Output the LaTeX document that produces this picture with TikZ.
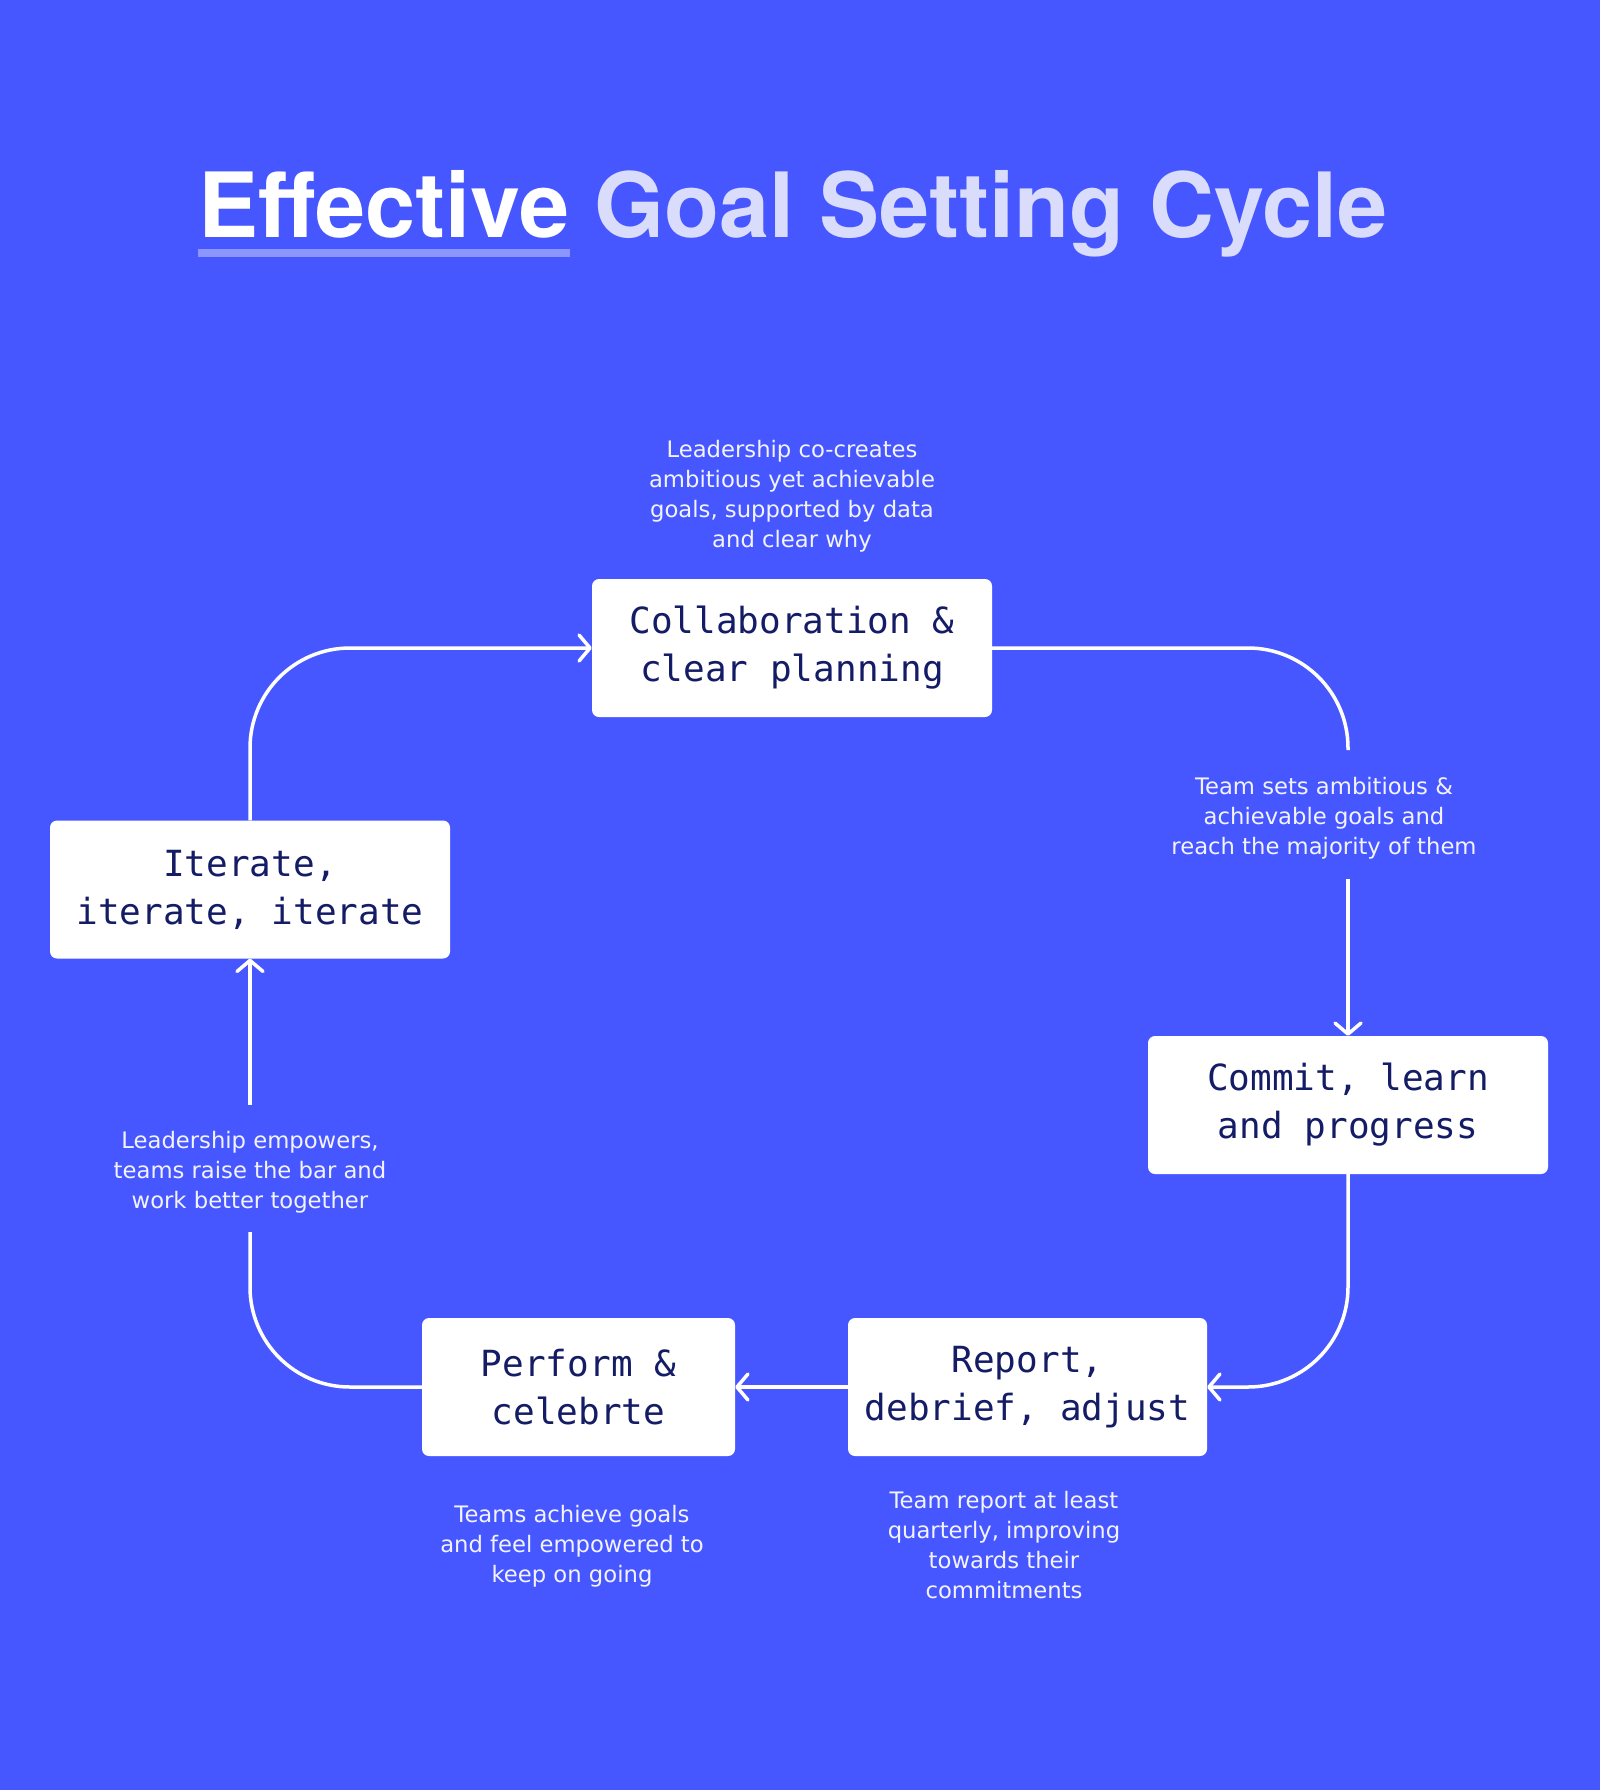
\documentclass[tikz,border=0pt]{standalone}
\usepackage{fontspec}
\setmainfont{DejaVu Sans}
\setmonofont{DejaVu Sans Mono}
\newfontfamily\titlefont{TeX Gyre Heros}
\usetikzlibrary{arrows.meta}
\definecolor{bg}{HTML}{4757FF}
\definecolor{navy}{HTML}{141C66}
\definecolor{lav}{HTML}{D9DCFB}
\definecolor{ulc}{HTML}{8C96FF}
\definecolor{lbl}{HTML}{F2F3FF}
\newsavebox\effbox
\begin{document}
\begin{tikzpicture}[x=1pt,y=-1pt,
 box/.style={fill=white, rounded corners=7pt, minimum height=138pt, inner sep=0pt, align=center, text=navy, font=\fontsize{36}{48}\selectfont\ttfamily},
 note/.style={align=center, text=lbl, inner sep=0pt, font=\fontsize{22.7}{30}\selectfont},
 conn/.style={draw=white, line width=3.5pt, rounded corners=100pt},
 arr/.style={-{Straight Barb[length=11pt,width=26pt,round]}}
]
\fill[bg] (0,0) rectangle (1600,1790);

\node[anchor=base, inner sep=0pt, font=\fontsize{90}{100}\selectfont\titlefont\bfseries] (title) at (793,237)
 {\sbox\effbox{\color{white}Effective}\vtop{\offinterlineskip\hbox{\usebox\effbox}\kern11pt\hbox{\color{ulc}\rule{\wd\effbox}{8pt}}} \textcolor{lav}{Goal Setting Cycle}};

\node[box, minimum width=400pt] (collab) at (792,648) {Collaboration \&\\clear planning};
\node[box, minimum width=400pt] (iter) at (250,889.5) {Iterate,\\iterate, iterate};
\node[box, minimum width=400pt] (commit) at (1348,1105) {Commit, learn\\and progress};
\node[box, minimum width=359pt] (report) at (1027.5,1387) {Report,\\debrief, adjust};
\node[box, minimum width=313pt] (perform) at (578.5,1387) {Perform \&\\celebrte};

\node[note] (n1) at (792,496) {Leadership co-creates\\ambitious yet achievable\\goals, supported by data\\and clear why};
\node[note] (n2) at (1324,818) {Team sets ambitious \&\\achievable goals and\\reach the majority of them};
\node[note] (n3) at (1004,1545) {Team report at least\\quarterly, improving\\towards their\\commitments};
\node[note] (n4) at (572,1546) {Teams achieve goals\\and feel empowered to\\keep on going};
\node[note] (n5) at (250,1172) {Leadership empowers,\\teams raise the bar and\\work better together};

\coordinate (g1a) at (1348,750);
\coordinate (g1b) at (1348,879);
\coordinate (g4a) at (250,1232);
\coordinate (g4b) at (250,1105);

\draw[conn] (collab.east) -| (g1a);
\draw[conn, arr] (g1b) -- (commit.north);
\draw[conn, arr] (commit.south) |- (report.east);
\draw[conn, arr] (report.west) -- (perform.east);
\draw[conn] (perform.west) -| (g4a);
\draw[conn, arr] (g4b) -- (iter.south);
\draw[conn, arr] (iter.north) |- (collab.west);
\end{tikzpicture}
\end{document}
